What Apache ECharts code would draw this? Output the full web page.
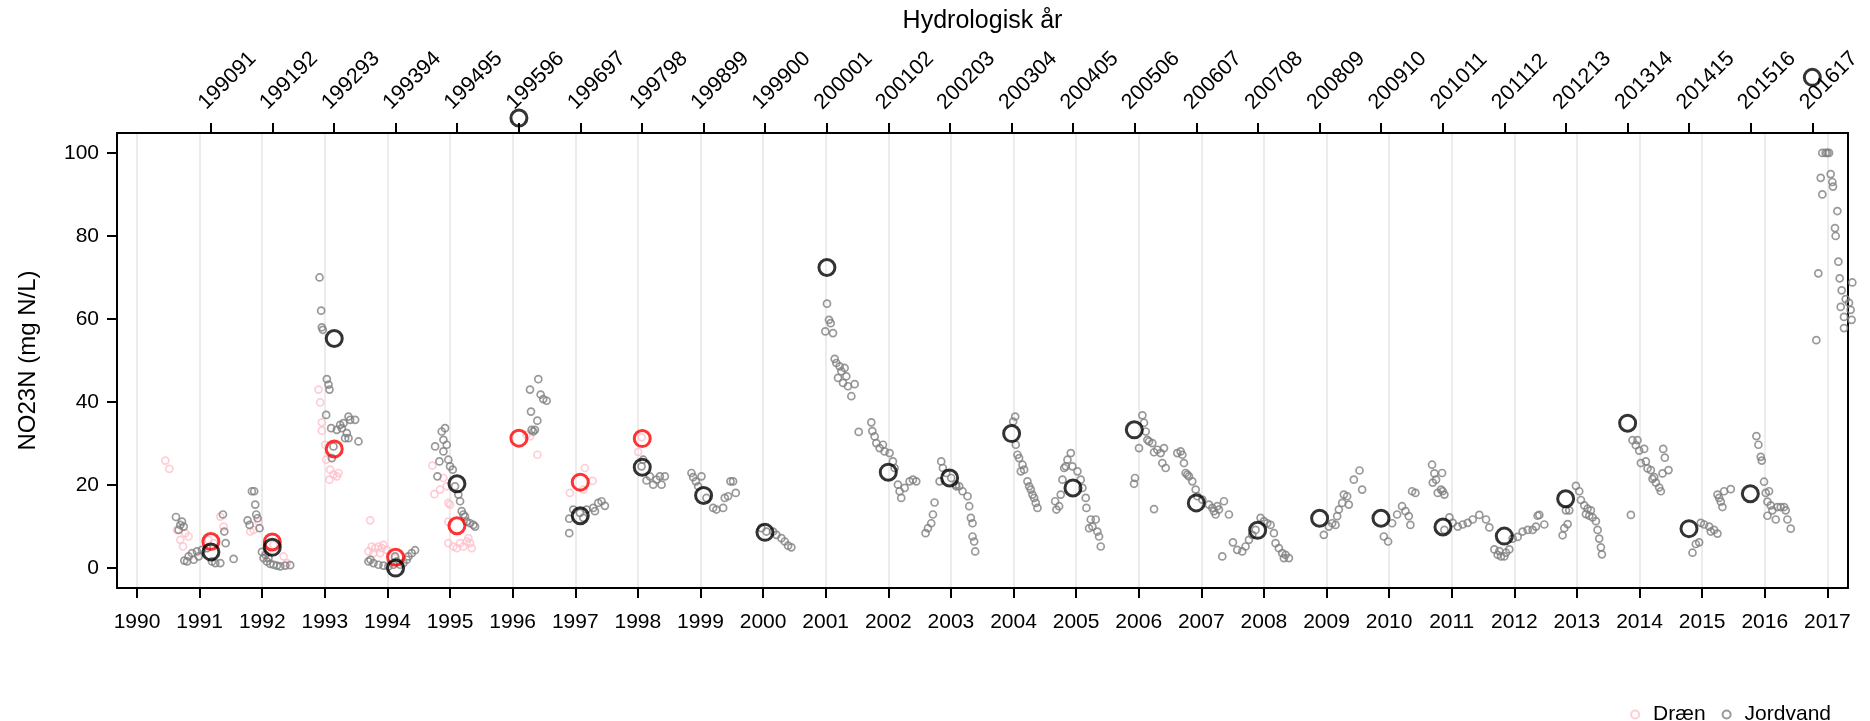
<!DOCTYPE html>
<html>
<head>
<meta charset="utf-8">
<script src="https://cdn.jsdelivr.net/npm/echarts@6/dist/echarts.min.js"></script>
<style>
html,body{margin:0;padding:0;background:#fff;}
#main{width:1870px;height:721px;}
</style>
</head>
<body>
<div id="main"></div>
<script>
// ---------- DATA ----------
const yearTicks = [1990,1991,1992,1993,1994,1995,1996,1997,1998,1999,2000,2001,2002,2003,2004,2005,2006,2007,2008,2009,2010,2011,2012,2013,2014,2015,2016,2017];
const yTicks = [0,20,40,60,80,100];

const hydroLabels = ['199091','199192','199293','199394','199495','199596','199697','199798','199899','199900','200001','200102','200203','200304','200405','200506','200607','200708','200809','200910','201011','201112','201213','201314','201415','201516','201617'];
const hydroX = [1991.18,1992.16,1993.15,1994.13,1995.11,1996.10,1997.08,1998.07,1999.05,2000.03,2001.02,2002.00,2002.98,2003.97,2004.95,2005.93,2006.92,2007.90,2008.89,2009.87,2010.86,2011.84,2012.82,2013.81,2014.79,2015.77,2016.76];
const jordMean = [3.9,5.0,55.3,0.0,20.3,108.4,12.6,24.3,17.5,8.6,72.4,23.1,21.7,32.4,19.3,33.3,15.7,9.1,12.0,12.0,9.9,7.7,16.7,34.9,9.5,17.9,118.2];
const draenMean = [6.4,6.3,28.7,2.6,10.2,31.3,20.7,31.2,null,null,null,null,null,null,null,null,null,null,null,null,null,null,null,null,null,null,null];

const draenPts = [
[1990.452,25.9],[1990.516,23.9],[1990.638,9.2],[1990.691,6.8],[1990.771,8.4],[1990.734,5.2],[1990.824,7.6],
[1991.330,12.4],[1991.383,10.0],[1991.223,6.0],[1991.140,6.8],
[1991.809,8.8],[1991.941,11.2],[1991.862,9.2],[1992.074,3.6],[1992.340,2.8],[1992.394,1.2],[1992.180,5.6],
[1992.899,43.0],[1992.926,39.9],[1992.952,35.1],[1992.952,33.1],[1993.005,29.7],[1993.021,26.1],[1993.085,23.7],[1993.074,21.3],[1993.138,22.5],[1993.191,22.1],[1993.218,22.9],
[1993.723,11.5],[1993.697,4.0],[1993.750,5.2],[1993.803,4.8],[1993.856,5.2],[1993.910,4.8],[1993.936,5.6],[1993.989,4.4],[1993.777,3.6],[1993.883,3.6],[1994.120,2.4],
[1994.718,24.7],[1994.750,17.8],[1994.840,18.9],[1994.894,21.7],[1994.947,19.7],[1994.973,15.7],[1995.000,15.3],[1994.973,6.0],[1995.053,5.2],[1995.106,4.8],[1995.160,6.0],[1995.213,5.2],[1995.266,6.4],[1995.319,6.0],[1995.346,4.8],[1995.293,7.2],[1994.973,11.2],
[1996.223,32.1],[1996.277,31.7],[1996.394,27.3],
[1996.915,18.1],[1997.154,24.1],[1997.277,21.0],[1997.128,18.9],
[1998.005,28.0],[1998.060,31.5]
];

const jordPts = [
[1990.622,12.3],[1990.691,10.4],[1990.718,11.2],[1990.665,9.2],[1990.745,10.0],[1990.755,1.8],[1990.824,2.8],[1990.878,3.6],[1990.957,4.0],[1991.037,4.4],[1991.117,4.8],[1990.904,2.0],[1990.984,2.8],[1990.800,1.6],[1991.197,1.6],[1991.250,1.2],[1991.330,1.2],[1991.372,12.9],[1991.394,8.8],[1991.415,6.0],[1991.543,2.2],
[1991.766,11.5],[1991.798,10.4],[1991.835,18.5],[1991.872,18.5],[1991.888,15.3],[1991.904,12.9],[1991.926,12.0],[1991.957,9.6],[1991.995,3.9],[1992.021,2.4],[1992.074,1.6],[1992.128,1.0],[1992.181,0.8],[1992.234,0.6],[1992.287,0.4],[1992.367,0.6],[1992.447,0.7],[1992.050,3.2],[1992.100,2.4],
[1992.915,70.0],[1992.941,62.0],[1992.952,58.0],[1992.968,57.4],[1993.032,45.5],[1993.059,44.2],[1993.074,43.0],[1993.021,36.9],[1993.101,33.7],[1993.138,29.3],[1993.112,26.5],[1993.191,33.3],[1993.245,34.5],[1993.298,34.9],[1993.378,36.5],[1993.404,35.7],[1993.351,32.5],[1993.378,31.3],[1993.484,35.7],[1993.537,30.5],[1993.324,31.3],[1993.271,33.7],
[1993.697,1.6],[1993.777,1.2],[1993.856,0.8],[1993.936,0.6],[1994.016,0.4],[1994.096,0.8],[1994.149,1.6],[1994.202,0.8],[1994.255,1.2],[1994.309,2.0],[1994.335,2.8],[1994.388,3.6],[1994.441,4.3],[1994.122,2.8],[1993.730,2.0],
[1994.761,29.3],[1994.830,25.7],[1994.798,22.1],[1994.867,32.9],[1994.920,33.7],[1994.894,30.9],[1994.947,29.7],[1994.894,28.1],[1994.973,26.1],[1995.000,24.5],[1995.043,23.7],[1995.080,19.7],[1995.133,17.7],[1995.160,16.1],[1995.186,13.7],[1995.213,12.9],[1995.239,12.4],[1995.266,11.2],[1995.319,10.8],[1995.372,10.4],[1995.399,10.0],
[1996.410,45.5],[1996.277,43.0],[1996.447,41.8],[1996.489,40.7],[1996.543,40.3],[1996.293,37.7],[1996.394,35.5],[1996.303,33.3],[1996.356,33.3],[1996.330,32.9],
[1996.904,8.4],[1996.904,11.9],[1996.968,14.1],[1997.074,13.3],[1997.181,14.1],[1997.287,14.5],[1997.367,15.7],[1997.420,16.1],[1997.473,15.0],[1997.314,13.7],[1997.128,12.1],
[1998.059,24.5],[1998.138,21.1],[1998.191,22.1],[1998.245,20.1],[1998.298,21.3],[1998.378,20.1],[1998.351,22.1],[1998.431,22.1],[1998.085,26.1],
[1998.856,22.9],[1998.883,21.9],[1998.926,20.9],[1999.016,22.1],[1998.963,19.7],[1999.096,16.9],[1999.202,14.5],[1999.255,14.1],[1999.362,14.5],[1999.388,16.9],[1999.441,17.3],[1999.479,20.9],[1999.521,20.9],[1999.564,18.1],
[1999.973,9.6],[2000.053,8.8],[2000.160,8.8],[2000.213,8.0],[2000.293,7.2],[2000.346,6.4],[2000.399,5.4],[2000.452,5.0],
[2001.021,63.7],[2001.053,59.8],[2001.080,59.0],[2001.117,56.6],[2000.995,57.0],[2001.144,50.4],[2001.170,49.4],[2001.223,48.6],[2001.250,47.4],[2001.303,48.2],[2001.330,46.2],[2001.197,45.8],[2001.277,44.6],[2001.356,43.8],[2001.463,44.3],[2001.410,41.4],
[2001.527,32.8],[2001.729,35.1],[2001.745,33.0],[2001.782,31.7],[2001.809,30.1],[2001.862,28.9],[2001.915,29.7],[2001.941,28.1],[2002.021,27.7],[2002.074,25.7],[2002.101,24.1],[2002.154,20.1],[2002.181,18.5],[2002.207,16.9],[2002.261,19.3],[2002.340,20.9],[2002.394,21.3],[2002.447,20.9],
[2002.596,8.4],[2002.633,9.6],[2002.686,10.8],[2002.713,12.9],[2002.739,15.8],[2002.846,25.7],[2002.872,24.1],[2002.819,20.9],[2002.926,22.9],[2003.005,21.7],[2003.085,19.7],[2003.133,19.7],[2003.186,18.5],[2003.266,17.3],[2003.293,14.9],[2003.319,12.1],[2003.346,10.8],[2003.346,7.6],[2003.372,6.4],[2003.388,4.0],[2003.080,20.1],
[2004.027,36.5],[2003.995,35.3],[2004.037,29.7],[2004.064,27.3],[2004.090,26.5],[2004.144,24.9],[2004.117,23.3],[2004.170,23.7],[2004.223,20.9],[2004.250,19.7],[2004.277,18.9],[2004.303,17.7],[2004.330,16.9],[2004.356,15.7],[2004.383,14.5],
[2004.665,16.1],[2004.686,14.1],[2004.729,14.9],[2004.755,17.7],[2004.782,21.3],[2004.809,24.1],[2004.835,24.5],[2004.862,26.1],[2004.915,27.7],[2004.941,24.5],[2005.021,23.3],[2005.074,21.3],[2005.101,19.3],[2005.154,16.9],[2005.165,14.5],[2005.234,11.7],[2005.261,10.0],[2005.314,11.7],[2005.340,8.8],[2005.367,7.6],[2005.394,5.2],[2005.207,9.6],
[2005.926,20.3],[2005.941,21.7],[2006.005,28.9],[2006.059,36.8],[2006.085,35.0],[2006.112,32.9],[2006.138,30.9],[2006.165,30.5],[2006.218,30.1],[2006.245,27.9],[2006.298,28.5],[2006.351,27.7],[2006.404,28.9],[2006.378,25.3],[2006.431,24.1],[2006.245,14.2],
[2006.617,27.7],[2006.670,28.1],[2006.697,27.3],[2006.723,25.3],[2006.750,22.9],[2006.777,22.5],[2006.803,22.1],[2006.856,20.9],[2006.910,18.9],[2006.936,17.3],[2007.016,16.5],[2007.122,15.3],[2007.176,14.5],[2007.229,12.9],[2007.282,14.1],[2007.362,16.1],[2007.441,12.9],[2007.255,14.9],[2007.202,13.7],
[2007.335,2.8],[2007.505,6.2],[2007.574,4.4],[2007.654,4.0],[2007.707,5.2],[2007.761,6.8],[2007.814,8.0],[2007.867,9.2],[2007.947,12.1],[2008.000,11.3],[2008.053,10.8],[2008.106,10.4],[2008.160,8.4],[2008.186,6.0],[2008.239,4.8],[2008.293,3.6],[2008.346,3.2],[2008.399,2.4],[2008.319,2.4],
[2008.957,8.0],[2009.037,10.0],[2009.090,10.8],[2009.144,10.4],[2009.170,12.5],[2009.197,14.1],[2009.250,15.7],[2009.277,17.7],[2009.330,17.3],[2009.356,15.3],[2009.436,21.3],[2009.527,23.5],[2009.569,18.9],
[2009.915,7.6],[2009.984,6.4],[2010.048,10.8],[2010.128,12.9],[2010.207,14.9],[2010.261,13.7],[2010.314,12.5],[2010.340,10.4],[2010.367,18.5],[2010.420,18.1],
[2010.686,24.9],[2010.723,22.8],[2010.846,22.9],[2010.697,20.6],[2010.750,21.3],[2010.777,18.1],[2010.830,18.9],[2010.883,17.7],[2010.856,18.5],[2010.883,9.2],[2010.963,12.2],[2011.016,10.9],[2011.096,10.0],[2011.176,10.5],[2011.255,10.9],[2011.335,11.7],[2011.441,12.8],[2011.548,11.7],[2011.601,9.8],
[2011.681,4.5],[2011.734,3.2],[2011.787,2.8],[2011.867,3.7],[2011.920,4.5],[2011.973,7.1],[2012.053,7.5],[2012.133,8.8],[2012.213,9.2],[2012.293,9.2],[2012.346,10.0],[2012.372,12.6],[2012.399,12.8],[2012.479,10.5],[2011.761,4.1],[2011.840,2.8],
[2012.771,7.9],[2012.798,9.6],[2012.851,10.6],[2012.824,13.9],[2012.878,13.9],[2012.984,19.8],[2013.037,18.5],[2013.064,16.4],[2013.117,15.1],[2013.170,14.3],[2013.223,13.9],[2013.250,12.2],[2013.303,11.3],[2013.330,9.2],[2013.356,7.1],[2013.383,5.0],[2013.399,3.3],[2013.144,13.0],[2013.197,12.6],
[2013.862,12.8],[2013.888,30.8],[2013.968,30.8],[2013.941,29.6],[2013.995,28.3],[2014.074,28.7],[2014.021,25.3],[2014.101,25.7],[2014.128,24.0],[2014.181,23.6],[2014.207,21.5],[2014.261,20.6],[2014.314,19.4],[2014.340,18.5],[2014.378,28.7],[2014.404,26.6],[2014.463,23.6],[2014.367,22.8],[2014.234,21.9],
[2014.846,3.7],[2014.899,5.8],[2014.952,6.2],[2014.979,10.9],[2015.032,10.5],[2015.112,10.0],[2015.191,9.2],[2015.245,8.3],[2015.138,8.8],[2015.245,17.7],[2015.298,16.0],[2015.324,14.7],[2015.351,18.5],[2015.457,19.0],[2015.271,16.9],
[2015.867,31.8],[2015.899,29.7],[2015.936,26.8],[2015.952,25.9],[2015.989,20.8],[2016.016,18.1],[2016.069,18.5],[2016.043,16.0],[2016.096,15.1],[2016.122,13.9],[2016.202,14.7],[2016.255,14.7],[2016.309,14.7],[2016.335,13.9],[2016.362,11.7],[2016.415,9.5],[2016.176,11.7],[2016.043,12.6],
[2016.920,100],[2016.973,100],[2017.027,100],[2017.000,100],[2016.894,94.0],[2016.920,90.0],[2017.053,94.9],[2017.080,93.0],[2017.090,91.9],[2017.160,86.0],[2017.122,81.9],[2017.133,80.0],[2017.176,73.8],[2017.197,69.8],[2016.856,71.0],[2017.229,66.9],[2017.293,64.8],[2017.213,62.9],[2017.346,63.9],[2017.372,62.2],[2017.266,60.5],[2017.266,57.8],[2017.388,59.8],[2017.399,68.8],[2016.824,54.9]
];

// ---------- CHART ----------
const X_MIN = 1989.68, X_MAX = 2017.33;
const Y_MIN = -4.8, Y_MAX = 104.8;
const FONT = 'Liberation Sans, Arial, sans-serif';
const LABEL_SHIFT = 0.14; // visual offset of rotated top labels (years)

const jordMeanPts = hydroX.map((x, i) => [x, jordMean[i]]).filter(p => p[1] !== null);
const draenMeanPts = hydroX.map((x, i) => [x, draenMean[i]]).filter(p => p[1] !== null);
const topLabelPos = hydroX.map(x => +(x - LABEL_SHIFT).toFixed(4));

function topLabel(v) {
  let best = 0, bd = Infinity;
  topLabelPos.forEach((p, i) => { const d = Math.abs(p - v); if (d < bd) { bd = d; best = i; } });
  return hydroLabels[best];
}

const hollow = (c, w) => ({ color: 'rgba(0,0,0,0)', borderColor: c, borderWidth: w });

const chart = echarts.init(document.getElementById('main'), null, { renderer: 'canvas' });
chart.setOption({
  animation: false,
  backgroundColor: '#fff',
  textStyle: { fontFamily: FONT },
  grid: { left: 117, right: 22, top: 133, bottom: 133, containLabel: false },
  legend: {
    data: ['Dræn', 'Jordvand'],
    right: 34, top: 699,
    icon: 'circle',
    itemWidth: 26, itemHeight: 8, itemGap: 16,
    textStyle: { fontSize: 21, color: '#000', fontFamily: FONT },
    selectedMode: false
  },
  xAxis: [
    {
      type: 'value', position: 'bottom', min: X_MIN, max: X_MAX,
      axisLine: { show: true, onZero: false, lineStyle: { color: '#000', width: 2 } },
      axisTick: { show: true, customValues: yearTicks, length: 10, lineStyle: { color: '#000', width: 2 } },
      axisLabel: { customValues: yearTicks, fontSize: 21, color: '#000', margin: 24, fontFamily: FONT, formatter: v => String(v) },
      splitLine: { show: true, lineStyle: { color: '#e6e6e6', width: 1.5 } }
    },
    {
      type: 'value', position: 'top', min: X_MIN, max: X_MAX,
      name: 'Hydrologisk år', nameLocation: 'middle', nameGap: 99,
      nameTextStyle: { fontSize: 25, color: '#000', fontFamily: FONT },
      axisLine: { show: true, onZero: false, lineStyle: { color: '#000', width: 2 } },
      axisTick: { show: true, customValues: hydroX, length: 10, lineStyle: { color: '#000', width: 2 } },
      axisLabel: { customValues: topLabelPos, rotate: -45, fontSize: 21.5, color: '#000', margin: 27, fontFamily: FONT, formatter: topLabel },
      splitLine: { show: false }
    }
  ],
  yAxis: [
    {
      type: 'value', position: 'left', min: Y_MIN, max: Y_MAX,
      name: 'NO23N (mg N/L)', nameLocation: 'middle', nameGap: 77,
      nameTextStyle: { fontSize: 24, color: '#000', fontFamily: FONT },
      axisLine: { show: true, onZero: false, lineStyle: { color: '#000', width: 2 } },
      axisTick: { show: true, customValues: yTicks, length: 10, lineStyle: { color: '#000', width: 2 } },
      axisLabel: { customValues: yTicks, fontSize: 21, color: '#000', margin: 18, fontFamily: FONT },
      splitLine: { show: false }
    },
    {
      type: 'value', position: 'right', min: Y_MIN, max: Y_MAX,
      axisLine: { show: true, onZero: false, lineStyle: { color: '#000', width: 2 } },
      axisTick: { show: false }, axisLabel: { show: false }, splitLine: { show: false }
    }
  ],
  series: [
    {
      name: 'Dræn', type: 'scatter', data: draenPts, xAxisIndex: 0, yAxisIndex: 0,
      symbol: 'circle', symbolSize: 7, clip: false, silent: true,
      itemStyle: hollow('#FFC0CB', 1.7)
    },
    {
      name: 'Jordvand', type: 'scatter', data: jordPts, xAxisIndex: 0, yAxisIndex: 0,
      symbol: 'circle', symbolSize: 7, clip: false, silent: true,
      itemStyle: hollow('#7f7f7f', 1.7)
    },
    {
      name: 'Dræn middel', type: 'scatter', data: draenMeanPts, xAxisIndex: 0, yAxisIndex: 0,
      symbol: 'circle', symbolSize: 16, clip: false, silent: true,
      itemStyle: hollow('#FF0000', 3)
    },
    {
      name: 'Jordvand middel', type: 'scatter', data: jordMeanPts, xAxisIndex: 0, yAxisIndex: 0,
      symbol: 'circle', symbolSize: 16, clip: false, silent: true,
      itemStyle: hollow('#000000', 3)
    }
  ]
});
</script>
</body>
</html>
